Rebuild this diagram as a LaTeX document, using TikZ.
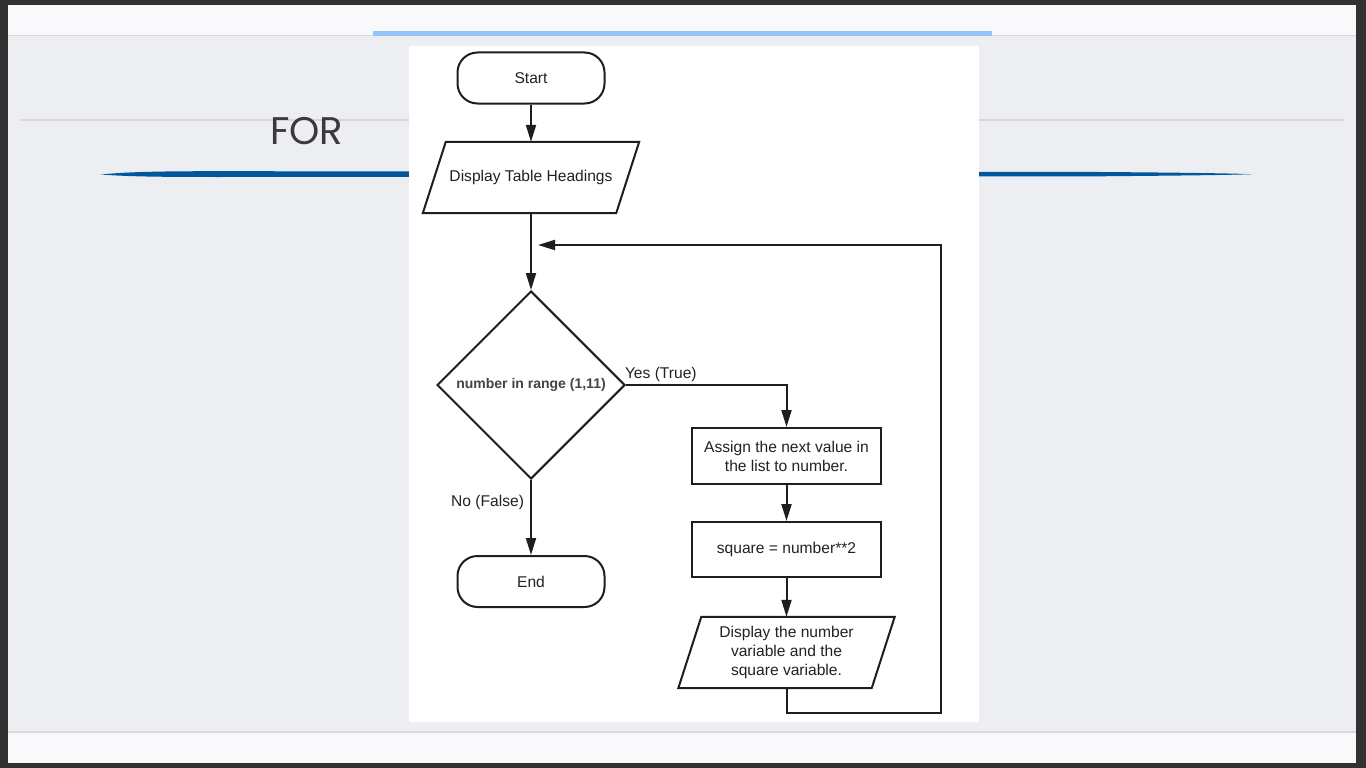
\documentclass[tikz,border=0pt]{standalone}
\usepackage{fontspec}
\setmainfont{Liberation Sans}
\newfontfamily\titlefont{Poppins}
\usetikzlibrary{arrows.meta,shapes.geometric,calc}
\definecolor{frame}{HTML}{323232}
\definecolor{band}{HTML}{F9F9FB}
\definecolor{slide}{HTML}{EDEEF2}
\definecolor{shadow}{HTML}{D8D9DD}
\definecolor{topbar}{HTML}{93C5F8}
\definecolor{rule}{HTML}{D6D6DA}
\definecolor{swoosh}{HTML}{00579B}
\definecolor{titlec}{HTML}{3A3A3A}
\definecolor{lc}{HTML}{1E1E1E}
\definecolor{tc}{HTML}{222222}
\begin{document}
\begin{tikzpicture}[x=1pt,y=-1pt,
  every node/.style={text=tc, font=\fontsize{15.6}{19}\selectfont},
  term/.style={draw=lc, line width=2pt, rounded corners=20pt, minimum width=147pt, minimum height=51pt},
  proc/.style={draw=lc, line width=2pt, rectangle, minimum width=189pt, align=center},
  io/.style={rectangle, minimum width=193pt, minimum height=71pt, align=center, inner sep=0pt},
  dec/.style={draw=lc, line width=2pt, diamond, minimum width=188pt, minimum height=188pt, inner sep=1pt, font=\bfseries\fontsize{14}{16}\selectfont, text=tc!85!white},
  conn/.style={draw=lc, line width=2pt},
  arr/.style={conn, -{Triangle[length=17pt,width=10pt]}},
  lbl/.style={inner sep=2pt}
]
\useasboundingbox (0,0) rectangle (1366,768);
% slide background
\fill[frame] (0,0) rectangle (1366,768);
\fill[band] (8,5) rectangle (1356,763);
\fill[slide] (8,35) rectangle (1356,732);
\draw[shadow, line width=1.5pt] (8,35.5) -- (1356,35.5);
\draw[shadow, line width=1.5pt] (8,732) -- (1356,732);
\fill[topbar] (373,31) rectangle (992,36);
\draw[rule, line width=1.5pt] (21,120) -- (1344,120);
\node[anchor=base west, inner sep=0pt, text=titlec, font=\titlefont\fontsize{38.5}{40}\selectfont] (title) at (270,144) {FOR};
\fill[swoosh] (101,174.5) .. controls (130,171.5) and (170,171.2) .. (220,171.2)
  -- (1100,172) .. controls (1180,172.6) and (1230,173.3) .. (1252,174.2)
  .. controls (1230,175) and (1180,175.6) .. (1100,176.3)
  -- (220,177) .. controls (170,177) and (130,176.8) .. (101,174.5) -- cycle;
% content card
\fill[white] (409,46) rectangle (979,722);

% flowchart nodes
\node[term] (start) at (531,78) {Start};
\node[io] (disp) at (531,177.5) {Display Table Headings};
\draw[conn] ($(disp.south west)+(-11.5,0)$) -- ($(disp.south east)+(-11.5,0)$)
  -- ($(disp.north east)+(11.5,0)$) -- ($(disp.north west)+(11.5,0)$) -- cycle;
\node[dec] (dec) at (531,385) {number in range (1,11)};
\node[term] (end) at (531,581.5) {End};
\node[proc, minimum height=56pt] (asg) at (786.5,456) {Assign the next value in\\the list to number.};
\node[proc, minimum height=55pt] (sq) at (786.5,549.5) {square = number**2};
\node[io] (show) at (786.5,652.5) {Display the number\\variable and the\\square variable.};
\draw[conn] ($(show.south west)+(-11.5,0)$) -- ($(show.south east)+(-11.5,0)$)
  -- ($(show.north east)+(11.5,0)$) -- ($(show.north west)+(11.5,0)$) -- cycle;
\coordinate (loopcorner) at (941,713);
\coordinate (loopend) at (538,245);

% connectors
\draw[arr] (start) -- (disp.north);
\draw[arr] (disp.south) -- (dec.north);
\draw[arr] (dec.east) -| (asg.north) node[pos=0, lbl, anchor=south west, xshift=-4pt] {Yes (True)};
\draw[arr] (asg) -- (sq);
\draw[arr] (sq) -- (show.north);
\draw[arr] (show.south) |- (loopcorner) |- (loopend);
\draw[arr] (dec.south) -- (end) node[pos=0.3, lbl, anchor=east, xshift=-4pt] {No (False)};
\end{tikzpicture}
\end{document}
